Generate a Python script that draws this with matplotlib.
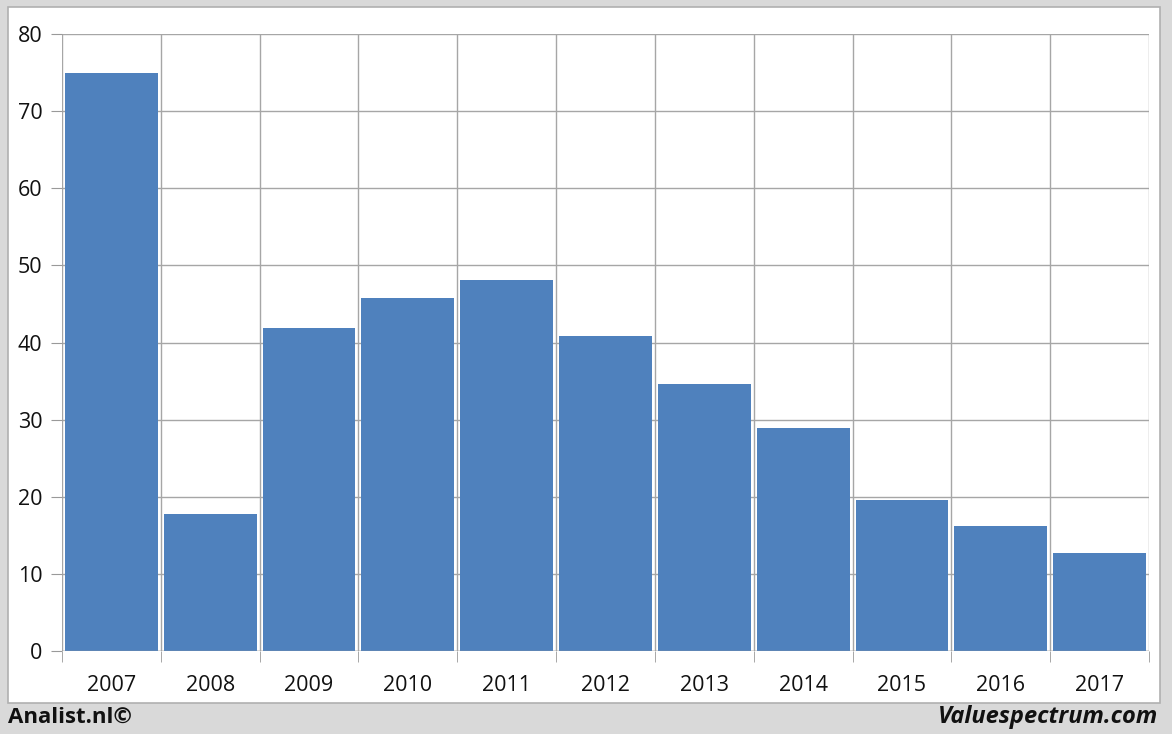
import matplotlib
matplotlib.use("Agg")
import matplotlib.pyplot as plt
from matplotlib.patches import Rectangle

years = ["2007", "2008", "2009", "2010", "2011", "2012", "2013", "2014", "2015", "2016", "2017"]
values = [74.9, 17.8, 41.9, 45.8, 48.1, 40.8, 34.6, 28.9, 19.6, 16.2, 12.7]
yticks = [0, 10, 20, 30, 40, 50, 60, 70, 80]

W, H = 1172, 734
fig = plt.figure(figsize=(W / 100, H / 100), dpi=100)
fig.patch.set_facecolor("#d9d9d9")
plt.rcParams["font.family"] = ["Open Sans", "DejaVu Sans"]

# white panel
fig.patches.append(Rectangle((8 / W, 1 - 703 / H), (1160 - 8) / W, (703 - 7) / H,
                             transform=fig.transFigure, facecolor="white",
                             edgecolor="#b0b0b0", linewidth=1.2, zorder=-10))

ax = fig.add_axes([62 / W, 1 - 651 / H, (1149 - 62) / W, (651 - 34) / H])
ax.set_zorder(5)
ax.set_facecolor("none")
x = list(range(len(years)))
ax.bar(x, values, width=0.94, color="#4f81bd", zorder=3)
ax.set_xlim(-0.5, len(years) - 0.5)
ax.set_ylim(0, 80)
ax.set_yticks(yticks)
ax.set_yticklabels([str(v) for v in yticks], fontsize=15.5, color="#111111")
ax.set_xticks(x)
ax.set_xticklabels(years, fontsize=15.5, color="#111111")
ax.tick_params(axis="x", length=0, pad=17)
ax.tick_params(axis="y", length=8, color="#999999", pad=6)
# vertical gridlines at category boundaries
ax.set_xticks([i - 0.5 for i in range(len(years) + 1)], minor=True)
ax.tick_params(axis="x", which="minor", length=8, color="#999999", direction="out")
ax.grid(True, which="minor", axis="x", color="#a6a6a6", linewidth=1, zorder=0)
ax.grid(True, which="major", axis="y", color="#a6a6a6", linewidth=1, zorder=0)
ax.set_axisbelow(True)
for s in ["top", "right", "left", "bottom"]:
    ax.spines[s].set_visible(False)
ax.axhline(0, color="#999999", linewidth=1, zorder=4)

fig.text(8 / W, 1 - 717 / H, "Analist.nl©", fontsize=16, fontweight="bold",
         ha="left", va="center", color="#111111")
fig.text(1158 / W, 1 - 717 / H, "Valuespectrum.com", fontsize=17, fontweight="bold",
         fontstyle="italic", ha="right", va="center", color="#111111")

fig.savefig("out.png", dpi=100, facecolor=fig.get_facecolor())
